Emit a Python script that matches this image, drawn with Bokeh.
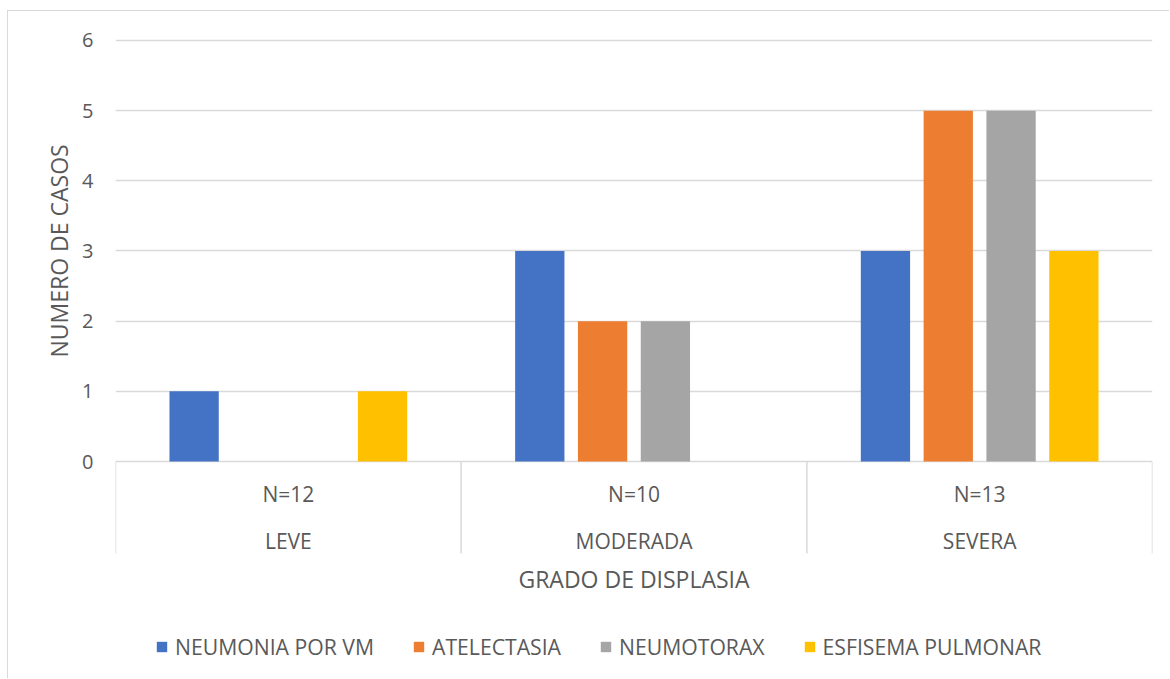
from bokeh.plotting import figure
from bokeh.models import (ColumnDataSource, FactorRange, Range1d, FixedTicker,
                          Legend, LegendItem, Label, Title)
from bokeh.transform import dodge
from bokeh.core.properties import value
from bokeh.embed import file_html
from bokeh.resources import INLINE

# ---------------- data ----------------
categories = ["LEVE", "MODERADA", "SEVERA"]
n_labels = ["N=12", "N=10", "N=13"]
series_names = ["NEUMONIA POR VM", "ATELECTASIA", "NEUMOTORAX", "ESFISEMA PULMONAR"]
neumonia = [1, 3, 3]
atelectasia = [0, 2, 5]
neumotorax = [0, 2, 5]
esfisema = [1, 0, 3]
y_ticks = [0, 1, 2, 3, 4, 5, 6]

colors = ["#4472C4", "#ED7D31", "#A5A5A5", "#FFC000"]
TXT = "#595959"
GRID = "#D9D9D9"
FONT = "Open Sans"

src = ColumnDataSource(dict(
    cat=categories, n=n_labels,
    neumonia=neumonia, atelectasia=atelectasia,
    neumotorax=neumotorax, esfisema=esfisema,
))

# canvas begins at page (8, 11) after margin + 1px border
# frame spans page y 20..671 ; zero at page y 461 ; 70.17 px per unit
ppu = 70.17
y_top = (461 - 20) / ppu
y_bot = (461 - 671) / ppu

p = figure(width=1162, height=668, output_backend="svg", toolbar_location=None,
           x_range=FactorRange(factors=categories, range_padding=0, factor_padding=0),
           y_range=Range1d(y_bot, y_top), x_axis_location=None,
           min_border_left=107, min_border_right=18, min_border_top=9,
           min_border_bottom=8)
p.outline_line_color = None
p.xgrid.grid_line_color = None
p.ygrid.grid_line_color = GRID
p.ygrid.grid_line_width = 1.3

ya = p.yaxis[0]
ya.ticker = FixedTicker(ticks=y_ticks)
ya.axis_line_color = None
ya.major_tick_line_color = None
ya.minor_tick_line_color = None
ya.major_tick_in = 0
ya.major_tick_out = 0
ya.major_label_standoff = 22
ya.major_label_text_font = FONT
ya.major_label_text_font_size = "20px"
ya.major_label_text_color = TXT

# bars
keys = ["neumonia", "atelectasia", "neumotorax", "esfisema"]
step = 0.1817
bar_w = 0.1426
renderers = []
for i, (k, c) in enumerate(zip(keys, colors)):
    off = (i - 1.5) * step
    r = p.vbar(x=dodge("cat", off, range=p.x_range), top=k, bottom=0, width=bar_w,
               source=src, fill_color=c, line_color=None)
    renderers.append(r)

# category table below the axis: separators at category edges
sep_bottom = (461 - 553) / ppu
p.segment(x0=dodge("cat", -0.5, range=p.x_range), y0=0,
          x1=dodge("cat", -0.5, range=p.x_range), y1=sep_bottom,
          source=src, line_color=GRID, line_width=1.5)
last_src = ColumnDataSource(dict(cat=[categories[-1]]))
p.segment(x0=dodge("cat", 0.5, range=p.x_range), y0=0,
          x1=dodge("cat", 0.5, range=p.x_range), y1=sep_bottom,
          source=last_src, line_color=GRID, line_width=1.5)

n_y = (461 - 493) / ppu
cat_y = (461 - 540) / ppu
p.text(x="cat", y=n_y, text="n", source=src, text_font=value(FONT),
       text_font_size="21px", text_color=TXT, text_align="center",
       text_baseline="middle")
p.text(x="cat", y=cat_y, text="cat", source=src, text_font=value(FONT),
       text_font_size="21px", text_color=TXT, text_align="center",
       text_baseline="middle")

# x axis title
title_y = (461 - 578) / ppu
p.add_layout(Label(x=1.5, y=title_y, text="GRADO DE DISPLASIA", text_font=FONT,
                   text_font_size="23px", text_color=TXT, text_align="center",
                   text_baseline="middle"))
# y axis title (centered on the 0..6 part of the axis)
yt = Title(text="NUMERO DE CASOS", align="left", offset=314, text_font=FONT,
           text_font_size="23px", text_color=TXT, text_font_style="normal",
           standoff=10)
p.add_layout(yt, "left")

legend = Legend(items=[LegendItem(label=n, renderers=[r]) for n, r in zip(series_names, renderers)],
                orientation="horizontal", location=(40, 10))
legend.padding = 0
legend.margin = 0
legend.spacing = 38
legend.border_line_color = None
legend.background_fill_alpha = 0
legend.glyph_width = 13
legend.glyph_height = 13
legend.label_standoff = 7
legend.label_text_font = FONT
legend.label_text_font_size = "21.2px"
legend.label_text_color = TXT
p.add_layout(legend)

p.styles = {"margin-left": "7px", "margin-top": "10px",
            "border-left": "1px solid #D9D9D9", "border-top": "1px solid #D9D9D9"}

open("out.html", "w").write(file_html(p, INLINE))
